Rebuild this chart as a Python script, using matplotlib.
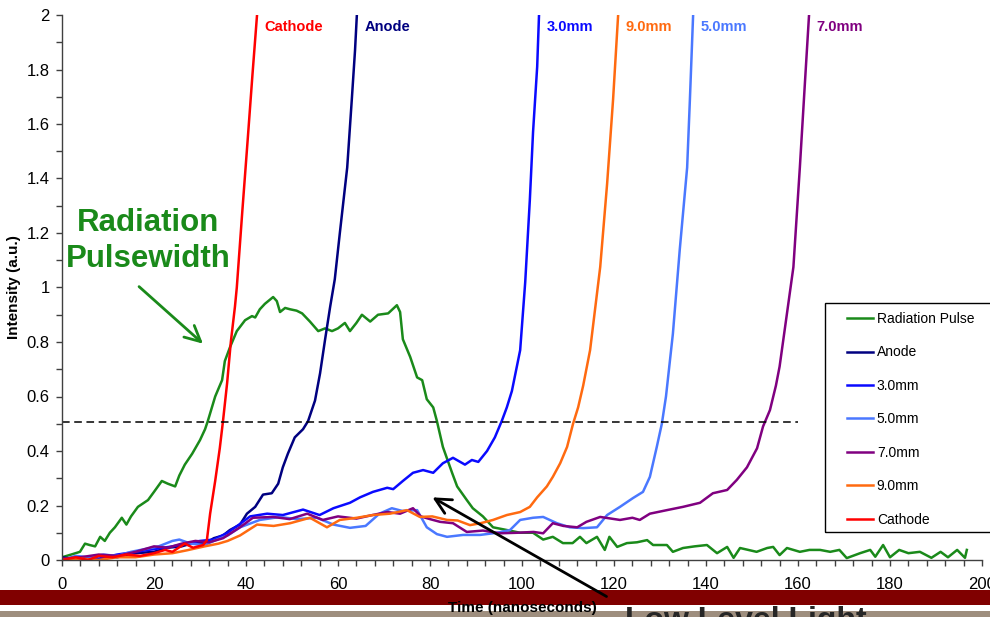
import numpy as np
import matplotlib
matplotlib.use('Agg')
import matplotlib.pyplot as plt
from matplotlib.patches import Rectangle
from matplotlib.ticker import MultipleLocator, FuncFormatter

plt.rcParams['font.family'] = ['Liberation Sans', 'DejaVu Sans']

# traces as (time ns, intensity a.u.)
pulse = [(0, 0.01), (2, 0.02), (3.9, 0.03), (5, 0.06), (6, 0.055), (7.2, 0.05), (8.3, 0.085),
         (9.3, 0.07), (10.4, 0.10), (11.5, 0.12), (13, 0.155), (14, 0.13), (15, 0.16), (16.5, 0.195),
         (18.7, 0.22), (20, 0.25), (21.7, 0.29), (23, 0.28), (24.6, 0.27), (25.5, 0.31), (26.7, 0.35),
         (28.3, 0.39), (30, 0.44), (31.1, 0.48), (31.7, 0.51), (33.3, 0.60), (34.8, 0.66), (35.4, 0.73),
         (36.5, 0.78), (38, 0.84), (39.8, 0.88), (41.3, 0.895), (42, 0.89), (43, 0.92), (44.1, 0.94),
         (45.9, 0.965), (46.7, 0.95), (47.4, 0.91), (48.5, 0.925), (49.6, 0.92), (51, 0.915),
         (52.2, 0.905), (53.9, 0.875), (55.7, 0.84), (57.2, 0.85), (58.7, 0.84), (60, 0.85),
         (61.5, 0.87), (62.6, 0.84), (64, 0.87), (65.2, 0.90), (67, 0.875), (68.7, 0.90), (70.9, 0.905),
         (72.8, 0.935), (73.5, 0.91), (74.1, 0.81), (75.7, 0.745), (77.2, 0.67), (78.3, 0.66),
         (79.3, 0.59), (80.7, 0.56), (81.5, 0.51), (82.8, 0.415), (84.8, 0.32), (85.9, 0.27),
         (88, 0.22), (89.3, 0.19), (91.5, 0.16), (93.7, 0.12), (96.7, 0.11), (99.6, 0.10),
         (102.4, 0.10), (104.6, 0.075), (106.7, 0.085), (108.9, 0.062), (111, 0.062), (112.6, 0.085),
         (114, 0.062), (116.3, 0.085), (118, 0.037), (119, 0.085), (120.7, 0.048), (122.8, 0.062),
         (125, 0.065), (127.2, 0.073), (128.5, 0.055), (131.5, 0.055), (132.8, 0.03), (135, 0.044),
         (137.5, 0.05), (140.2, 0.055), (142.4, 0.025), (144.6, 0.048), (146, 0.008), (147.4, 0.044),
         (151, 0.03), (153.3, 0.044), (154.6, 0.048), (156, 0.018), (157.6, 0.044), (160.4, 0.03),
         (162.5, 0.037), (164.8, 0.037), (167, 0.03), (169, 0.037), (170.6, 0.007), (173.5, 0.025),
         (175.7, 0.037), (176.8, 0.012), (178.5, 0.055), (180, 0.01), (182, 0.037), (184, 0.025),
         (186.5, 0.03), (189, 0.008), (191, 0.03), (192.6, 0.01), (194.6, 0.037), (196.3, 0.008),
         (196.7, 0.037)]

anode = [(0, 0.01), (4, 0.0), (8, 0.015), (12, 0.01), (16, 0.025), (20, 0.03), (23, 0.045),
         (26, 0.05), (29, 0.065), (31, 0.06), (33, 0.08), (35, 0.09), (36.5, 0.11), (38.7, 0.13),
         (40.2, 0.17), (42, 0.195), (43.7, 0.24), (45.6, 0.245), (47, 0.28), (48, 0.34), (49.1, 0.39),
         (50.6, 0.45), (52.4, 0.48), (53.5, 0.51), (55, 0.585), (56.1, 0.685), (57.2, 0.81),
         (58.3, 0.93), (59.3, 1.03), (60.4, 1.2), (62, 1.44), (63, 1.69), (63.7, 1.87), (64.1, 2.0)]

mm3 = [(0, 0.0), (4, 0.01), (8, 0.005), (12, 0.02), (16, 0.03), (20, 0.04), (24, 0.05), (27, 0.06),
       (30, 0.07), (33, 0.075), (36, 0.1), (38.5, 0.13), (40.9, 0.16), (44.6, 0.17), (48, 0.165),
       (52.4, 0.185), (56, 0.165), (59, 0.19), (62.6, 0.21), (64.8, 0.23), (67.6, 0.25), (70.7, 0.265),
       (72, 0.26), (74.1, 0.29), (76.3, 0.32), (78.5, 0.33), (80.7, 0.32), (82.8, 0.355), (85, 0.375),
       (87.6, 0.35), (89.1, 0.367), (90.5, 0.36), (92.4, 0.40), (94.1, 0.45), (95.6, 0.51),
       (96.7, 0.56), (97.8, 0.62), (99.6, 0.77), (100.7, 1.02), (101.7, 1.32), (102.4, 1.57),
       (103.3, 1.81), (103.7, 2.0)]

mm5 = [(0, 0.0), (3, 0.015), (6, 0.01), (9, 0.02), (12, 0.015), (15, 0.03), (18, 0.04), (21, 0.05),
       (24, 0.07), (25.5, 0.075), (28, 0.06), (31, 0.055), (33, 0.07), (36, 0.09), (38.7, 0.12),
       (43, 0.147), (47.4, 0.158), (51, 0.15), (55.4, 0.155), (59, 0.13), (62.6, 0.118), (66, 0.125),
       (69, 0.17), (71.7, 0.19), (74, 0.18), (77.2, 0.183), (79.3, 0.12), (81.5, 0.095), (83.7, 0.085),
       (87.2, 0.092), (90.9, 0.092), (94.6, 0.10), (97.4, 0.11), (99.6, 0.147), (102.4, 0.155),
       (104.6, 0.158), (107.6, 0.135), (110.4, 0.12), (113.3, 0.117), (116.3, 0.12), (118.5, 0.165),
       (121.3, 0.195), (124.1, 0.227), (126.3, 0.25), (127.8, 0.305), (129.3, 0.415), (130.4, 0.50),
       (131.3, 0.6), (132.8, 0.83), (134.3, 1.14), (135.9, 1.44), (136.5, 1.69), (137.2, 2.0)]

mm7 = [(0, 0.005), (4, 0.01), (8, 0.02), (12, 0.015), (16, 0.03), (20, 0.05), (23, 0.045), (26, 0.06),
       (29, 0.07), (32, 0.065), (35, 0.08), (38.7, 0.12), (41.5, 0.155), (45.9, 0.158), (49.5, 0.15),
       (53.3, 0.17), (56.7, 0.147), (60, 0.16), (64, 0.152), (67.5, 0.165), (70.7, 0.176),
       (73.5, 0.17), (76.3, 0.19), (78, 0.16), (80, 0.15), (82.2, 0.14), (85, 0.135), (88, 0.103),
       (91.5, 0.108), (95.2, 0.098), (99, 0.1), (102.5, 0.103), (104.6, 0.098), (106.7, 0.135),
       (109, 0.125), (112, 0.12), (114, 0.14), (117, 0.158), (121.3, 0.147), (124, 0.155),
       (125.6, 0.147), (127.8, 0.17), (131.5, 0.183), (135, 0.195), (138.7, 0.21), (141.5, 0.245),
       (144.6, 0.257), (146.7, 0.294), (148.9, 0.34), (151.1, 0.41), (152.4, 0.49), (153.9, 0.55),
       (155.2, 0.64), (156, 0.71), (159, 1.075), (160.4, 1.44), (161.5, 1.75), (162.4, 2.0)]

mm9 = [(0, 0.0), (4, 0.005), (8, 0.0), (12, 0.01), (16, 0.01), (20, 0.02), (24, 0.025), (27, 0.035),
       (31, 0.05), (34, 0.06), (36, 0.07), (38.7, 0.09), (42.4, 0.13), (46, 0.125), (49.6, 0.135),
       (53.9, 0.155), (57.6, 0.12), (60.4, 0.147), (64.1, 0.155), (67.6, 0.165), (71.3, 0.17),
       (75, 0.183), (77.8, 0.158), (80.5, 0.16), (83.7, 0.147), (86, 0.145), (88.7, 0.128),
       (91, 0.135), (93.7, 0.147), (96.7, 0.165), (99.6, 0.176), (101.7, 0.195), (103.3, 0.23),
       (105.4, 0.27), (106.7, 0.305), (108.3, 0.355), (109.8, 0.415), (111.1, 0.50), (112.2, 0.56),
       (113.3, 0.64), (114.8, 0.77), (117, 1.075), (118.5, 1.38), (119.8, 1.69), (120.9, 2.0)]

cathode = [(0, 0.0), (3, 0.01), (5.6, 0.0), (8, 0.015), (11, 0.01), (14, 0.02), (17, 0.015),
           (20, 0.025), (22.4, 0.037), (24, 0.03), (26.7, 0.06), (28.5, 0.045), (30.7, 0.055),
           (31.5, 0.073), (32.2, 0.17), (33.3, 0.29), (34.3, 0.41), (35, 0.51), (35.9, 0.65),
           (36.7, 0.80), (37.6, 0.93), (38.0, 1.0), (39.2, 1.28), (40.4, 1.55), (41.4, 1.78),
           (42.4, 2.0)]

names = ['Radiation Pulse', 'Anode', '3.0mm', '5.0mm', '7.0mm', '9.0mm', 'Cathode']
traces = [pulse, anode, mm3, mm5, mm7, mm9, cathode]
colors = ['#1a8a1a', '#000080', '#0a0aff', '#4a78ff', '#800080', '#ff6a10', '#ff0000']
top_labels = ['Cathode', 'Anode', '3.0mm', '9.0mm', '5.0mm', '7.0mm']

half_max = 0.505
dash_end = 160

fig = plt.figure(figsize=(9.9, 6.17), dpi=100)
W, H = 990, 617
ax = fig.add_axes([62 / W, (H - 560) / H, (982 - 62) / W, (560 - 15) / H])

lines = []
for name, tr, c in zip(names, traces, colors):
    d = np.array(tr)
    ln, = ax.plot(d[:, 0], d[:, 1], color=c, lw=1.8, label=name)
    lines.append(ln)

ax.hlines(half_max, 0, dash_end, colors='black', linestyles=(0, (5, 3)), lw=1.1)

# series names at the top of each rising edge
for name in top_labels:
    d = np.array(traces[names.index(name)])
    c = colors[names.index(name)]
    ax.text(d[-1, 0] + 1.6, 1.955, name, color=c, fontsize=10.5, fontweight='bold',
            ha='left', va='center')

ax.set_xlim(0, 200)
ax.set_ylim(0, 2)
ax.spines['top'].set_visible(False)
ax.spines['right'].set_visible(False)
for s in ('left', 'bottom'):
    ax.spines[s].set_color('#404040')
    ax.spines[s].set_linewidth(1)
ax.xaxis.set_major_locator(MultipleLocator(20))
ax.xaxis.set_minor_locator(MultipleLocator(4))
ax.yaxis.set_major_locator(MultipleLocator(0.2))
ax.yaxis.set_minor_locator(MultipleLocator(0.1))
ax.yaxis.set_major_formatter(FuncFormatter(lambda v, _: f'{v:g}'))
ax.tick_params(axis='both', which='major', length=4, width=1, color='#404040', labelsize=12)
ax.tick_params(axis='both', which='minor', length=4, width=1, color='#404040')
ax.tick_params(axis='x', which='major', pad=8)
ax.tick_params(axis='y', which='major', pad=5)

ax.set_ylabel('Intensity (a.u.)', fontsize=11, fontweight='bold', labelpad=4)
ax.set_xlabel('Time (nanoseconds)', fontsize=11, fontweight='bold', labelpad=7)

green = colors[0]
ax.text(18.7, 1.17, 'Radiation\nPulsewidth', color=green, fontsize=22.5, fontweight='bold',
        ha='center', va='center', linespacing=1.27)
ax.annotate('', xy=(31.1, 0.787), xytext=(16.3, 1.01),
            arrowprops=dict(arrowstyle='->', color=green, lw=2, mutation_scale=28),
            annotation_clip=False)
ax.annotate('', xy=(80, 0.235), xytext=(118.9, -0.139),
            arrowprops=dict(arrowstyle='->', color='black', lw=2, mutation_scale=28),
            annotation_clip=False).arrow_patch.set_clip_on(False)

# legend: frame drawn separately so it can run off the right edge
leg = fig.legend(handles=lines, loc='upper left', bbox_to_anchor=(847 / W, (H - 312) / H),
                 frameon=False, fontsize=10, borderpad=0, borderaxespad=0,
                 handlelength=1.85, handletextpad=0.3, labelspacing=1.4)
fig.patches.append(Rectangle((825 / W, (H - 532) / H), 175 / W, 229 / H, transform=fig.transFigure,
                             fill=False, edgecolor='black', lw=1, zorder=2))

# slide bands under the chart
fig.patches.append(Rectangle((0, (H - 605) / H), 1, 15 / H, transform=fig.transFigure,
                             facecolor='#800000', edgecolor='none', zorder=-1))
fig.patches.append(Rectangle((0, 0), 1, 6 / H, transform=fig.transFigure,
                             facecolor='#9e8e7e', edgecolor='none', zorder=-1))
fig.text(625 / W, (H - 606) / H, 'Low Level Light', fontsize=23, fontweight='bold',
         color='#262626', ha='left', va='top')

fig.savefig('out.png', dpi=100)
